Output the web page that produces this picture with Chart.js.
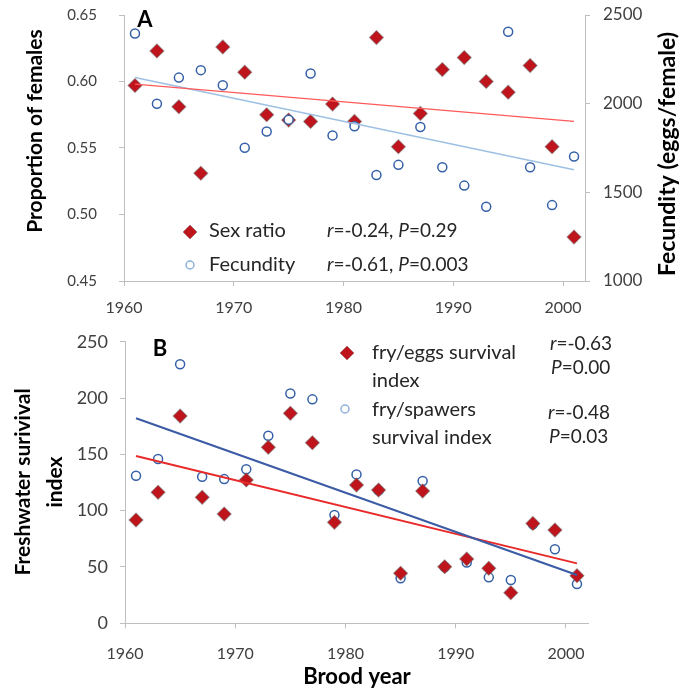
<!DOCTYPE html>
<html>
<head>
<meta charset="utf-8">
<script src="https://cdn.jsdelivr.net/npm/chart.js@4.4.1/dist/chart.umd.min.js"></script>
<style>
  html, body { margin: 0; padding: 0; background: #fff; }
  #wrap { position: relative; width: 694px; height: 689px; }
  #chartA { position: absolute; left: 0; top: 0; }
  #chartB { position: absolute; left: 0; top: 320px; }
</style>
</head>
<body>
<div id="wrap">
  <canvas id="chartA" width="694" height="320"></canvas>
  <canvas id="chartB" width="694" height="369"></canvas>
</div>
<script>
// Brood years (odd years only)
const years = [1961, 1963, 1965, 1967, 1969, 1971, 1973, 1975, 1977, 1979, 1981,
               1983, 1985, 1987, 1989, 1991, 1993, 1995, 1997, 1999, 2001];

// Panel A
const sexRatio  = [0.597, 0.623, 0.581, 0.531, 0.626, 0.607, 0.575, 0.571, 0.570, 0.583, 0.570,
                   0.633, 0.551, 0.576, 0.609, 0.618, 0.600, 0.592, 0.612, 0.551, 0.483];
const fecundity = [2396, 2000, 2147, 2189, 2104, 1751, 1843, 1910, 2170, 1821, 1873,
                   1598, 1655, 1868, 1641, 1538, 1419, 2406, 1641, 1428, 1702];

// Panel B
const fryEggs     = [91.7, 116.3, 184, 111.8, 97, 127.2, 156.2, 186.4, 160.3, 89.6, 122.7,
                     118.3, 44.4, 117.4, 50.2, 57.1, 48.8, 27.2, 88.7, 82.8, 42.3];
const frySpawners = [131, 145.8, 230, 130.1, 128, 136.7, 166.5, 204, 198.8, 96.1, 132.2,
                     118, 40, 126.3, 50, 54, 40.8, 38.4, 88, 65.7, 34.9];

// Trend lines (end points)
const trendYears       = [1961, 2001];
const sexRatioTrend    = [0.598, 0.570];
const fecundityTrend   = [2147, 1627];
const fryEggsTrend     = [148.5, 53.2];
const frySpawnersTrend = [182, 42.9];

// Tick labels
const xTicks      = [1960, 1970, 1980, 1990, 2000];
const leftTicksA  = [0.45, 0.50, 0.55, 0.60, 0.65];
const rightTicksA = [1000, 1500, 2000, 2500];
const leftTicksB  = [0, 50, 100, 150, 200, 250];

const FONT = 'Lato, "Open Sans", sans-serif';
const RED = '#c0141c';
const BLUE = '#3560a8';
const AXIS = '#bfbfbf';
const TICK_TXT = '#404040';

const pts = (xs, ys) => xs.map((x, i) => ({ x, y: ys[i] }));
const fixTicks = arr => s => { s.ticks = arr.map(v => ({ value: v })); };
// fixed axis width, and no extra label padding pushing the plot area around
const fixWidth = w => s => { s.width = w; s.paddingTop = 0; s.paddingBottom = 0; };

// free text + legend markers drawn on top of the chart
const freeText = {
  id: 'freeText',
  afterDraw(chart, args, opts) {
    const ctx = chart.ctx;
    (opts.markers || []).forEach(m => {
      ctx.save();
      ctx.beginPath();
      if (m.type === 'diamond') {
        ctx.moveTo(m.x, m.y - m.r); ctx.lineTo(m.x + m.r, m.y);
        ctx.lineTo(m.x, m.y + m.r); ctx.lineTo(m.x - m.r, m.y);
        ctx.closePath();
        ctx.fillStyle = m.fill; ctx.fill();
        ctx.strokeStyle = 'rgba(100,100,100,0.4)'; ctx.lineWidth = 1; ctx.stroke();
      } else {
        ctx.arc(m.x, m.y, m.r, 0, Math.PI * 2);
        ctx.fillStyle = '#fff'; ctx.fill();
        ctx.strokeStyle = m.stroke; ctx.lineWidth = 1.5; ctx.stroke();
      }
      ctx.restore();
    });
    (opts.items || []).forEach(it => {
      ctx.save();
      ctx.translate(it.x, it.y);
      if (it.rotate) ctx.rotate(it.rotate);
      ctx.textBaseline = 'middle';
      ctx.textAlign = 'left';
      ctx.fillStyle = it.color || '#000';
      const parts = Array.isArray(it.text) ? it.text : [[it.text, false]];
      const fontOf = italic => `${italic ? 'italic ' : ''}${it.bold ? 'bold ' : ''}${it.size}px ${FONT}`;
      let total = 0;
      parts.forEach(([t, ital]) => { ctx.font = fontOf(ital); total += ctx.measureText(t).width; });
      let x = it.align === 'center' ? -total / 2 : 0;
      parts.forEach(([t, ital]) => {
        ctx.font = fontOf(ital);
        ctx.fillText(t, x, 0);
        x += ctx.measureText(t).width;
      });
      ctx.restore();
    });
  }
};

const xScale = (height, pad) => ({
  type: 'linear', min: 1960, max: 2002,
  afterBuildTicks: fixTicks(xTicks),
  afterFit: s => { s.height = height; },
  grid: { drawOnChartArea: false, color: AXIS, tickLength: 5 },
  border: { color: AXIS },
  ticks: { color: TICK_TXT, font: { family: FONT, size: 16 }, padding: pad, maxRotation: 0,
           callback: v => String(v) }
});

new Chart(document.getElementById('chartA'), {
  type: 'scatter',
  data: {
    datasets: [
      { label: 'Sex ratio trend', type: 'line', data: pts(trendYears, sexRatioTrend), yAxisID: 'y',
        borderColor: '#ff5a5a', borderWidth: 1.3, pointRadius: 0, order: 0 },
      { label: 'Fecundity trend', type: 'line', data: pts(trendYears, fecundityTrend), yAxisID: 'y1',
        borderColor: '#9dc0e4', borderWidth: 1.5, pointRadius: 0, order: 0 },
      { label: 'Fecundity', data: pts(years, fecundity), yAxisID: 'y1',
        pointStyle: 'circle', pointRadius: 4.5, backgroundColor: '#fff', borderColor: BLUE,
        borderWidth: 1.5, order: 1 },
      { label: 'Sex ratio', data: pts(years, sexRatio), yAxisID: 'y',
        pointStyle: 'rectRot', pointRadius: 7, backgroundColor: RED,
        borderColor: 'rgba(100,100,100,0.45)', borderWidth: 1.2, order: 2 }
    ]
  },
  options: {
    responsive: false, animation: false,
    layout: { padding: { top: 15, left: 0, right: 0, bottom: 0 } },
    scales: {
      x: xScale(39, 12),
      y: {
        position: 'left', min: 0.45, max: 0.65,
        afterBuildTicks: fixTicks(leftTicksA),
        afterFit: fixWidth(124),
        grid: { drawOnChartArea: false, color: AXIS, tickLength: 5 },
        border: { color: AXIS },
        ticks: { color: TICK_TXT, font: { family: FONT, size: 15 }, padding: 22,
                 callback: v => v.toFixed(2) }
      },
      y1: {
        position: 'right', min: 1000, max: 2500,
        afterBuildTicks: fixTicks(rightTicksA),
        afterFit: fixWidth(109),
        grid: { drawOnChartArea: false, color: AXIS, tickLength: 5 },
        border: { color: AXIS },
        ticks: { color: TICK_TXT, font: { family: FONT, size: 17 }, padding: 13,
                 callback: v => String(v) }
      }
    },
    plugins: {
      legend: { display: false }, tooltip: { enabled: false },
      freeText: {
        markers: [
          { type: 'diamond', x: 190, y: 232, r: 7, fill: RED },
          { type: 'circle', x: 190, y: 265, r: 4, stroke: '#8fb0d8' }
        ],
        items: [
          { text: 'A', x: 145, y: 20, size: 22, bold: true, align: 'center' },
          { text: 'Proportion of females', x: 35, y: 131, size: 21, bold: true, align: 'center', rotate: -Math.PI / 2 },
          { text: 'Fecundity (eggs/female)', x: 668, y: 154, size: 23, bold: true, align: 'center', rotate: -Math.PI / 2 },
          { text: 'Sex ratio', x: 209, y: 231, size: 20, color: '#262626' },
          { text: 'Fecundity', x: 209, y: 265, size: 20, color: '#262626' },
          { text: [['r', true], ['=-0.24, ', false], ['P', true], ['=0.29', false]], x: 327, y: 231, size: 19, color: '#262626' },
          { text: [['r', true], ['=-0.61, ', false], ['P', true], ['=0.003', false]], x: 327, y: 265, size: 19, color: '#262626' }
        ]
      }
    }
  },
  plugins: [freeText]
});

new Chart(document.getElementById('chartB'), {
  type: 'scatter',
  data: {
    datasets: [
      { label: 'fry/spawers trend', type: 'line', data: pts(trendYears, frySpawnersTrend),
        borderColor: '#3b5ba5', borderWidth: 2, pointRadius: 0, order: 0 },
      { label: 'fry/eggs trend', type: 'line', data: pts(trendYears, fryEggsTrend),
        borderColor: '#e82a2a', borderWidth: 2, pointRadius: 0, order: 0 },
      { label: 'fry/eggs survival index', data: pts(years, fryEggs),
        pointStyle: 'rectRot', pointRadius: 7, backgroundColor: RED,
        borderColor: 'rgba(100,100,100,0.45)', borderWidth: 1.2, order: 1 },
      { label: 'fry/spawers survival index', data: pts(years, frySpawners),
        pointStyle: 'circle', pointRadius: 4.5, backgroundColor: '#fff', borderColor: BLUE,
        borderWidth: 1.5, order: 2 }
    ]
  },
  options: {
    responsive: false, animation: false,
    layout: { padding: { top: 21.7, left: 0, right: 106, bottom: 0 } },
    scales: {
      x: xScale(65.7, 16),
      y: {
        position: 'left', min: 0, max: 250,
        afterBuildTicks: fixTicks(leftTicksB),
        afterFit: fixWidth(125),
        grid: { drawOnChartArea: false, color: AXIS, tickLength: 5 },
        border: { color: AXIS },
        ticks: { color: TICK_TXT, font: { family: FONT, size: 18 }, padding: 12 }
      }
    },
    plugins: {
      legend: { display: false }, tooltip: { enabled: false },
      freeText: {
        markers: [
          { type: 'diamond', x: 347, y: 33, r: 7, fill: RED },
          { type: 'circle', x: 345, y: 89, r: 4, stroke: '#8fb0d8' }
        ],
        items: [
          { text: 'B', x: 160, y: 29, size: 22, bold: true, align: 'center' },
          { text: 'Freshwater surivival', x: 23, y: 162, size: 21, bold: true, align: 'center', rotate: -Math.PI / 2 },
          { text: 'index', x: 55, y: 162, size: 21, bold: true, align: 'center', rotate: -Math.PI / 2 },
          { text: 'Brood year', x: 357, y: 357, size: 22, bold: true, align: 'center' },
          { text: 'fry/eggs survival', x: 372, y: 33, size: 20, color: '#262626' },
          { text: 'index', x: 372, y: 61, size: 20, color: '#262626' },
          { text: 'fry/spawers', x: 372, y: 90, size: 20, color: '#262626' },
          { text: 'survival index', x: 372, y: 118, size: 20, color: '#262626' },
          { text: [['r', true], ['=-0.63', false]], x: 550, y: 24, size: 19, color: '#262626' },
          { text: [['P', true], ['=0.00', false]], x: 551, y: 48, size: 19, color: '#262626' },
          { text: [['r', true], ['=-0.48', false]], x: 548, y: 93, size: 19, color: '#262626' },
          { text: [['P', true], ['=0.03', false]], x: 549, y: 117, size: 19, color: '#262626' }
        ]
      }
    }
  },
  plugins: [freeText]
});
</script>
</body>
</html>
